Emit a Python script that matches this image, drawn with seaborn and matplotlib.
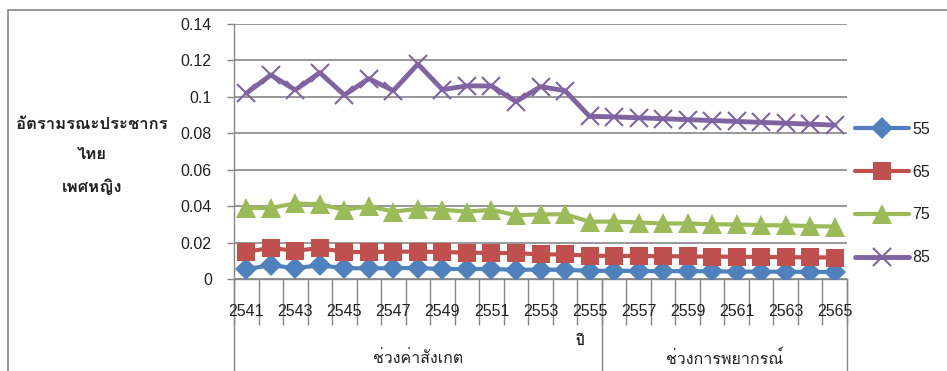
import numpy as np
import pandas as pd
import seaborn as sns
import matplotlib.pyplot as plt
from matplotlib import font_manager, ft2font
from matplotlib.patches import Rectangle

years = list(range(2541, 2566))
rate_55 = [0.0055, 0.0075, 0.006, 0.0075, 0.006, 0.0058, 0.006, 0.006, 0.0055, 0.0055,
           0.0055, 0.005, 0.0052, 0.005, 0.0045, 0.0045, 0.0044, 0.0043, 0.0043, 0.0042,
           0.0041, 0.004, 0.004, 0.0039, 0.0038]
rate_65 = [0.015, 0.017, 0.0155, 0.017, 0.0148, 0.0148, 0.015, 0.015, 0.0148, 0.0145,
           0.0143, 0.0142, 0.0135, 0.0135, 0.0128, 0.0127, 0.0126, 0.0125, 0.0124, 0.0123,
           0.0122, 0.0121, 0.012, 0.0119, 0.0118]
rate_75 = [0.039, 0.039, 0.0415, 0.041, 0.038, 0.04, 0.037, 0.0385, 0.038, 0.037,
           0.038, 0.035, 0.0355, 0.0355, 0.0315, 0.0315, 0.031, 0.0305, 0.0305, 0.030,
           0.030, 0.0295, 0.0295, 0.029, 0.0288]
rate_85 = [0.102, 0.112, 0.1038, 0.1133, 0.101, 0.110, 0.1034, 0.118, 0.104, 0.106,
           0.106, 0.0974, 0.1056, 0.1034, 0.0893, 0.089, 0.0885, 0.088, 0.0875, 0.087,
           0.0865, 0.086, 0.0855, 0.085, 0.0845]
ages = ["55", "65", "75", "85"]
groups = ["ช่วงค่าสังเกต", "ช่วงการพยากรณ์"]
group_sizes = [15, 10]
y_label = "อัตรามรณะประชากร\nไทย\nเพศหญิง"
x_title = "ปี"

# look for any installed font that has Thai glyphs
thai_font = None
for f in font_manager.fontManager.ttflist:
    try:
        if 0x0E01 in ft2font.FT2Font(f.fname).get_charmap():
            thai_font = f.name
            break
    except Exception:
        pass

sns.set_theme(style="white")
fams = ["Liberation Sans"]
if thai_font:
    fams.append(thai_font)
fams.append("DejaVu Sans")
plt.rcParams["font.family"] = fams

df = pd.DataFrame({"year": years, "55": rate_55, "65": rate_65, "75": rate_75, "85": rate_85})
df["pos"] = np.arange(len(years))
long_df = df.melt(id_vars=["year", "pos"], value_vars=ages, var_name="age", value_name="rate")

styles = {
    "55": dict(color="#4F81BD", marker="D", markersize=11, lw=3.0, mew=0),
    "65": dict(color="#C0504D", marker="s", markersize=12.5, lw=3.0, mew=0),
    "75": dict(color="#9BBB59", marker="^", markersize=14, lw=3.0, mew=0),
    "85": dict(color="#8064A2", marker="x", markersize=13, lw=3.5, mew=1.5),
}

fig = plt.figure(figsize=(9.47, 3.71), dpi=100)
ax = fig.add_axes([234 / 947, 92 / 371, 613 / 947, 255 / 371])

for i, age in enumerate(ages):
    st = styles[age]
    sns.lineplot(data=long_df[long_df["age"] == age], x="pos", y="rate", ax=ax,
                 color=st["color"], marker=st["marker"], markersize=st["markersize"],
                 linewidth=st["lw"], markeredgecolor=st["color"], markeredgewidth=st["mew"],
                 label=age, zorder=3 + i)

grey = "#868686"
ax.set_xlim(-0.5, len(years) - 0.5)
ax.set_ylim(0, 0.14)
yt = np.arange(0, 0.141, 0.02)
ax.set_yticks(yt)
ax.set_yticklabels(["0" if v == 0 else f"{v:g}" for v in np.round(yt, 2)], fontsize=11.5)
ax.yaxis.grid(True, color=grey, lw=1.2)
ax.xaxis.grid(False)
for s in ["top", "right"]:
    ax.spines[s].set_visible(False)
for s in ["left", "bottom"]:
    ax.spines[s].set_color(grey)
    ax.spines[s].set_linewidth(1.0)
ax.tick_params(axis="y", left=True, length=5, width=1, color=grey, pad=11, labelcolor="#222222")
ax.set_xticks(np.arange(-0.5, len(years), 1))
ax.tick_params(axis="x", bottom=True, length=33, width=1, color=grey, labelbottom=False)
ax.set_xlabel("")
ax.set_ylabel("")

trans = ax.get_xaxis_transform()
for i, y in enumerate(years):
    if i % 2 == 0:
        ax.text(i, -32.7 / 255, str(y), transform=trans, ha="center", va="center",
                fontsize=11.5, color="#222222")

# group separators and labels
start = -0.5
edges = [start]
for name, n in zip(groups, group_sizes):
    ax.text(start + n / 2, -79 / 255, name, transform=trans, ha="center", va="center",
            fontsize=11.5, color="#222222")
    start += n
    edges.append(start)
for e in edges:
    ax.plot([e, e], [0, -0.5], transform=trans, color=grey, lw=1.0, clip_on=False)

fig.text(580 / 947, 1 - 341 / 371, x_title, ha="center", va="center", fontsize=10,
         fontweight="bold", color="#222222")
fig.text(92 / 947, 1 - 156 / 371, y_label, ha="center", va="center", fontsize=12,
         fontweight="bold", color="#222222", linespacing=2.2)

leg = ax.legend(loc="center left", bbox_to_anchor=(855 / 947, 1 - 193.5 / 371),
                bbox_transform=fig.transFigure, frameon=False, fontsize=11.5,
                handlelength=3.4, handletextpad=0.2, labelspacing=1.75, borderpad=0,
                borderaxespad=0)
for t in leg.get_texts():
    t.set_color("#222222")

fig.patches.append(Rectangle((8 / 947, -0.1), 1.0, 1 - 10 / 371 + 0.1, transform=fig.transFigure,
                             fill=False, edgecolor=grey, lw=1.2))

fig.savefig("out.png", dpi=100)
